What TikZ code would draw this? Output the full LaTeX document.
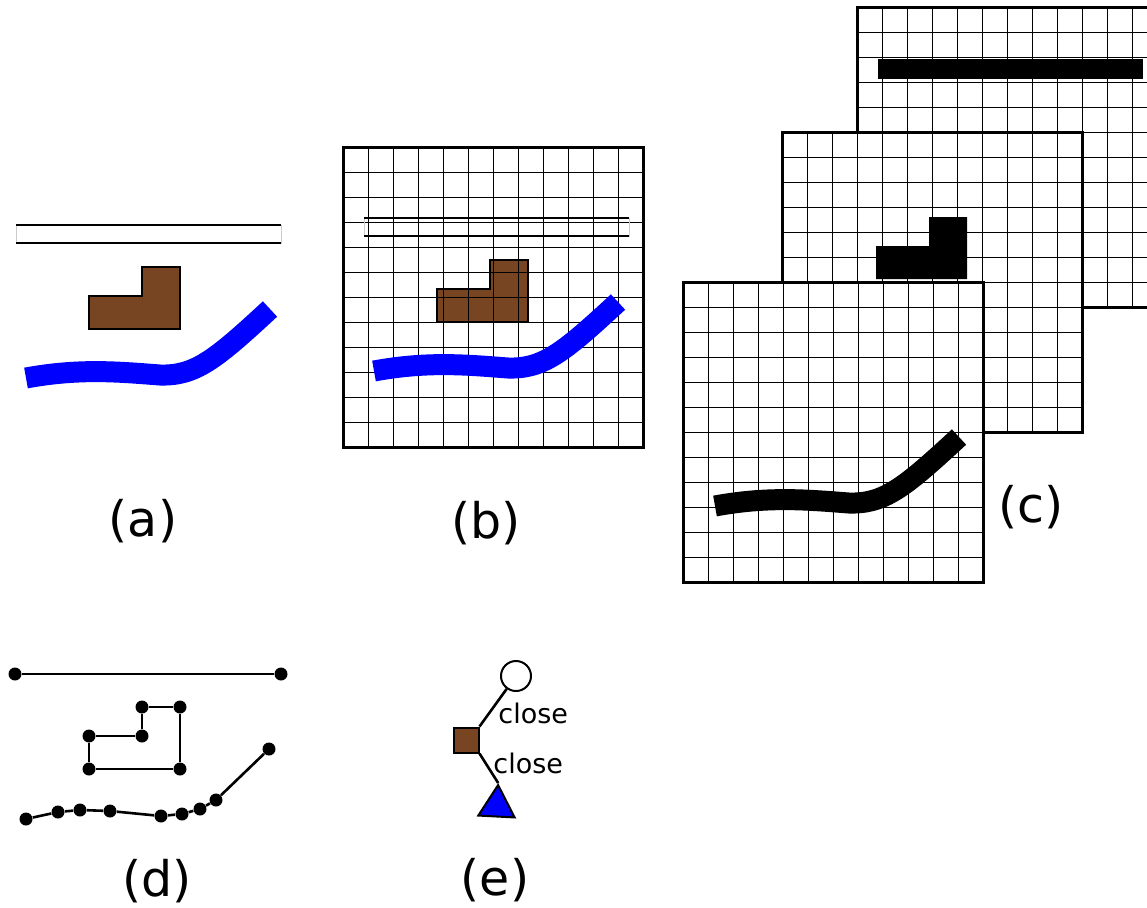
\documentclass[tikz,border=0pt]{standalone}
\usepackage{fontspec}
\setmainfont{DejaVu Sans}
\usetikzlibrary{shapes.geometric}
\definecolor{lbrown}{RGB}{120,69,35}
\newcommand{\lshape}{(89,296) -- (142,296) -- (142,267) -- (180,267) -- (180,329) -- (89,329) -- cycle}
\newcommand{\wavepath}{(26,378) .. controls (80,368) and (120,372) .. (160,375) .. controls (195,376) and (215,360) .. (270,309)}
\newcommand{\gridback}[2]{\fill[white] (#1,#2) rectangle ++(300,300);}
\newcommand{\gridlines}[2]{%
  \foreach \k in {1,...,11} {
    \draw[gridline] ({#1+\k*25},#2) -- ++(0,300);
    \draw[gridline] (#1,{#2+\k*25}) -- ++(300,0);
  }
  \draw[gridframe] (#1,#2) rectangle ++(300,300);}

\begin{document}
\begin{tikzpicture}[
  x=0.5pt, y=-0.5pt,
  gridline/.style={line width=0.8pt},
  gridframe/.style={line width=1.1pt},
  wavestroke/.style={line width=10.5pt},
  barline/.style={line width=1.3pt},
  dotnode/.style={circle, fill=black, inner sep=0pt, minimum size=6.5pt},
  edgeline/.style={line width=1.3pt},
  panellabel/.style={font=\fontsize{24.5}{28}\selectfont, anchor=base, inner sep=0pt},
  closelabel/.style={font=\fontsize{13.5}{15}\selectfont, anchor=base west, inner sep=0pt}
]
\useasboundingbox (0,0) rectangle (1147,907);
\clip (0,0) rectangle (1147,907);

% (a)
\draw[gray!40, line width=0.5pt, fill=white] (16,225) rectangle (281,243);
\draw[barline] (16,225) -- (281,225) (16,243) -- (281,243);
\draw[fill=lbrown, line width=0.8pt] \lshape;
\draw[wavestroke, blue] \wavepath;
\node[panellabel] (capA) at (143,536) {(a)};

% (b)
\gridback{343.5}{147.5}
\begin{scope}[shift={(348,-7)}]
  \draw[fill=lbrown, line width=0.8pt] \lshape;
\end{scope}
\gridlines{343.5}{147.5}
\begin{scope}[shift={(348,-7)}]
  \draw[gray!40, line width=0.5pt] (16,225) rectangle (281,243);
  \draw[barline] (16,225) -- (281,225) (16,243) -- (281,243);
  \draw[wavestroke, blue] \wavepath;
\end{scope}
\node[panellabel] (capB) at (486,538) {(b)};

% (c)
\gridback{857.5}{7.5}
\gridlines{857.5}{7.5}
\fill (878,59) rectangle (1143,79);
\gridback{782.5}{132.5}
\gridlines{782.5}{132.5}
\begin{scope}[shift={(787,-50)}]
  \fill \lshape;
\end{scope}
\gridback{683.5}{282.5}
\gridlines{683.5}{282.5}
\begin{scope}[shift={(689,128)}]
  \draw[wavestroke] \wavepath;
\end{scope}
\node[panellabel] (capC) at (1031,522) {(c)};

% (d)
\node[dotnode] (s1) at (15,674) {};
\node[dotnode] (s2) at (281,674) {};
\draw[edgeline] (s1) -- (s2);
\foreach \p [count=\i] in {(142,707),(180,707),(180,769),(89,769),(89,736),(142,736)}
  \node[dotnode] (p\i) at \p {};
\draw[edgeline] (p1) -- (p2) -- (p3) -- (p4) -- (p5) -- (p6) -- (p1);
\foreach \p [count=\i] in {(26,819),(58,812),(80,810),(110,811),(161,816),(182,814),(200,809),(216,800),(269,749)}
  \node[dotnode] (w\i) at \p {};
\draw[edgeline] (w1) -- (w2) -- (w3) -- (w4) -- (w5) -- (w6) -- (w7) -- (w8) -- (w9);
\node[panellabel] (capD) at (157,896) {(d)};

% (e)
\node[draw, circle, fill=white, line width=1pt, minimum size=15pt, inner sep=0pt] (knot) at (516,676) {};
\node[draw, fill=lbrown, line width=1pt, minimum size=12.5pt, inner sep=0pt] (box) at (466,740) {};
\node[draw, fill=blue, regular polygon, regular polygon sides=3, minimum size=21pt, inner sep=0pt, line width=1pt, rotate=-3] (tri) at (497,806) {};
\draw[edgeline] (box.north east) -- (knot);
\draw[edgeline] (box.south east) -- (tri.corner 1);
\node[closelabel] (closeA) at (498,723) {close};
\node[closelabel] (closeB) at (493,773) {close};
\node[panellabel] (capE) at (495,895) {(e)};
\end{tikzpicture}
\end{document}
